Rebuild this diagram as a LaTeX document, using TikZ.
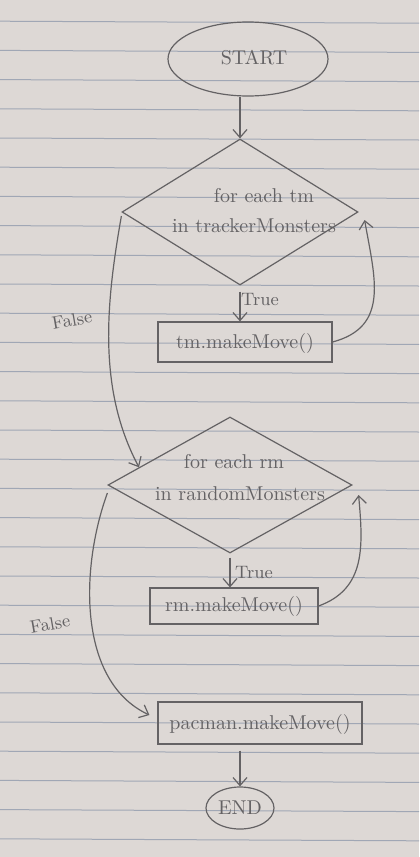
\documentclass[tikz,border=0pt]{standalone}
\usepackage{amsmath}
\usepackage{tikz}
\usetikzlibrary{positioning, shapes.geometric, arrows.meta}

\definecolor{pencilgray}{RGB}{100,98,100}
\definecolor{paper}{RGB}{221,216,213}
\definecolor{ruled}{RGB}{160,167,181}

\tikzset{
    pencil/.style={draw=pencilgray, line width=0.6pt},
    terminal/.style={pencil, ellipse, inner sep=0pt},
    decision/.style={pencil, diamond, inner sep=0pt},
    process/.style={pencil, rectangle, inner sep=0pt},
    flow/.style={pencil, -{Straight Barb[length=4pt,width=7pt]}},
    hand/.style={text=pencilgray, font=\normalsize},
    note/.style={text=pencilgray, font=\small},
}

\begin{document}
\begin{tikzpicture}[x=0.5pt, y=-0.5pt]
            \useasboundingbox (0,0) rectangle (419,857);
            \fill[paper] (0,0) rectangle (419,857);
            \foreach \k in {0,...,28}{%
                    \draw[ruled, line width=0.5pt] (0,{21.2+29.2*\k}) -- (419,{23.2+29.2*\k});
                }
            % terminals
            \node[terminal, minimum width=80pt, minimum height=37pt] (start) at (248,59) {};
            \node[hand] (startlbl) at (254,58) {START};
            \node[terminal, minimum width=34pt, minimum height=21pt] (end) at (240,808) {};
            \node[hand] (endlbl) at (240,808) {END};
            % first loop
            \node[decision, minimum width=118pt, minimum height=73pt] (d1) at (240,212) {};
            \node[hand] (d1top) at (264,196) {for each tm};
            \node[hand] (d1bot) at (254,226) {in trackerMonsters};
            \node[process, minimum width=87pt, minimum height=20pt] (b1) at (245,342) {};
            \node[hand] (b1lbl) at (245,343) {tm.makeMove()};
            % second loop
            \node[decision, minimum width=122pt, minimum height=68pt] (d2) at (230,485) {};
            \node[hand] (d2top) at (234,462) {for each rm};
            \node[hand] (d2bot) at (240,494) {in randomMonsters};
            \node[process, minimum width=84pt, minimum height=18pt] (b2) at (234,606) {};
            \node[hand] (b2lbl) at (234,606) {rm.makeMove()};
            % last move
            \node[process, minimum width=102pt, minimum height=21pt] (b3) at (260,723) {};
            \node[hand] (b3lbl) at (260,724) {pacman.makeMove()};
            % branch labels
            \node[note] (t1) at (260,300) {True};
            \node[note] (t2) at (254,572) {True};
            \node[note, rotate=10] (f1) at (72,320) {False};
            \node[note, rotate=10] (f2) at (50,624) {False};
            % connectors
            \draw[flow] (d1.north |- start.south) -- (d1.north);
            \draw[flow] ([yshift=-3pt]d1.south) -- (d1.south |- b1.north);
            \draw[flow] (b1.east) to[out=15, in=-80, looseness=1.2] ([xshift=3pt,yshift=-4pt]d1.east);
            \draw[flow] ([yshift=-2pt]d1.west) to[out=-100, in=118, looseness=0.9] (d2.169);
            \draw[flow] ([yshift=-2pt]d2.south) -- (d2.south |- b2.north);
            \draw[flow] (b2.east) to[out=20, in=-85, looseness=1.1] ([xshift=3pt,yshift=-5pt]d2.east);
            \draw[flow] ([yshift=-4pt]d2.west) to[out=-110, in=155, looseness=0.9] ([xshift=-4pt,yshift=4pt]b3.west);
            \draw[flow] ([yshift=-3pt]end.north |- b3.south) -- (end.north);
        \end{tikzpicture}
\end{document}
